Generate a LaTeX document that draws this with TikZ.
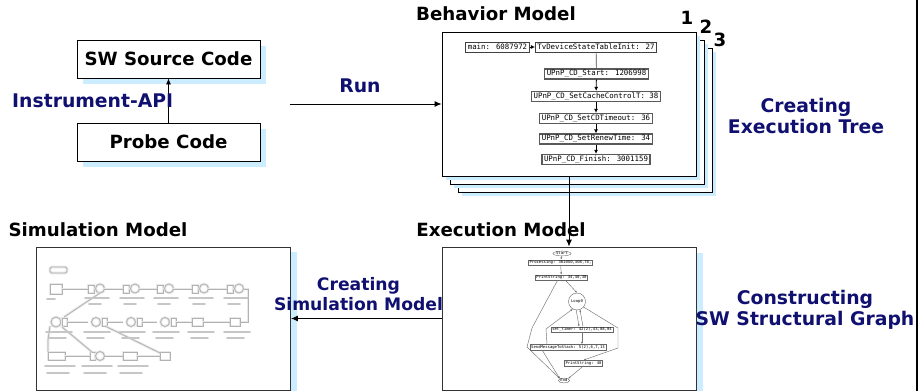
\documentclass[tikz,border=0pt]{standalone}
\usepackage{fontspec}
\setmainfont{DejaVu Sans}
\newfontfamily\monofont{DejaVu Sans Mono}
\usetikzlibrary{arrows.meta,shapes.geometric,shadows,calc}

\definecolor{navy}{RGB}{16,16,112}
\definecolor{shadowblue}{RGB}{204,236,255}

\begin{document}
\begin{tikzpicture}[x=1pt,y=-1pt,
  big/.style={font=\fontsize{18.2}{20}\selectfont\bfseries},
  bignote/.style={font=\fontsize{18.8}{20.5}\selectfont\bfseries},
  ttl/.style={big, text=black, inner sep=0pt},
  note/.style={bignote, text=navy, align=center, inner sep=0pt},
  blueshade/.style={drop shadow={shadow xshift=#1, shadow yshift=-#1, fill=shadowblue, opacity=1}},
  codebox/.style={draw, fill=white, line width=0.8pt, minimum width=183pt,
    minimum height=38pt, big, blueshade=6pt},
  sheet/.style={draw, fill=white, line width=0.8pt, minimum width=254pt,
    minimum height=144pt, blueshade=4pt},
  panel/.style={draw=black!80, fill=white, line width=0.9pt, minimum width=254pt,
    minimum height=143pt},
  tbox/.style={draw=black!75, fill=white, line width=0.7pt, inner xsep=2pt,
    inner ysep=1pt, minimum height=10pt, font=\monofont\fontsize{7.4}{8}\selectfont},
  tboxx/.style={tbox, line width=1.3pt, draw=black!65},
  tarrow/.style={draw=black, line width=0.8pt, -{Latex[length=4pt,width=4pt]}},
  flow/.style={draw=black, line width=0.9pt, -{Latex[length=7pt,width=6pt]}},
  gbox/.style={draw=black!60, fill=white, line width=0.4pt, inner xsep=1pt,
    inner ysep=0.8pt, font=\monofont\fontsize{3.9}{4.3}\selectfont},
  gell/.style={gbox, ellipse, inner xsep=0.5pt, inner ysep=0.2pt},
  gedge/.style={draw=black!55, line width=0.45pt, -{Latex[length=2.2pt,width=2pt]}},
  simline/.style={draw=gray!60, line width=0.8pt, preaction={draw=gray!18, line width=2.6pt}},
  simtext/.style={draw=gray!45, line width=1.6pt, line cap=round}
]
\useasboundingbox (0,0) rectangle (921,391);

% page edge rule
\draw[line width=2pt] (917,0) -- (917,391);

% ---------------- instrumentation ----------------
\node[codebox] (sw) at (168.5,59) {SW Source Code};
\node[codebox] (probe) at (168.5,142) {Probe Code};
\draw[line width=0.8pt, -{Latex[length=6pt,width=5pt]}] (probe.north) -- (sw.south);
\node[note, anchor=west] (api) at (12,101) {Instrument-API};

% ---------------- behavior model (stack of three sheets) ----------------
\node[sheet] (b3) at (585,120) {};
\node[sheet] (b2) at (577,112) {};
\node[sheet] (b1) at (569,104) {};
\node[ttl] (btitle) at (496,14) {Behavior Model};
\node[ttl] (n1) at (687,18) {1};
\node[ttl] (n2) at (706,27) {2};
\node[ttl] (n3) at (720,40) {3};

\node[tbox] (tmain) at (497.5,47) {main: 6087972};
\node[tbox] (ttv) at (596,47) {TvDeviceStateTableInit: 27};
\node[tboxx] (tstart) at (596.5,74) {UPnP\_CD\_Start: 1206998};
\node[tboxx] (tcache) at (596,96.5) {UPnP\_CD\_SetCacheControlT: 38};
\node[tboxx] (ttime) at (596,118.5) {UPnP\_CD\_SetCDTimeout: 36};
\node[tboxx] (trenew) at (596,139) {UPnP\_CD\_SetRenewTime: 34};
\node[tboxx] (tfin) at (596,159.5) {UPnP\_CD\_Finish: 3001159};
\draw[tarrow] (tmain) -- (ttv);
\draw[draw=black!70, line width=0.7pt] (ttv) -- (tstart);
\draw[tarrow] (tstart) -- (tcache);
\draw[tarrow] (tcache) -- (ttime);
\draw[tarrow] (ttime) -- (trenew);
\draw[tarrow] (trenew) -- (tfin);

% Run
\coordinate (runfrom) at (290,104);
\draw[flow] (runfrom) -- (b1.west);
\node[note] (run) at (360,86) {Run};
\node[note] (cet) at (806,116) {Creating\\Execution Tree};

% ---------------- execution model ----------------
\fill[shadowblue] (696,253) rectangle (703,391);
\node[panel] (exec) at (569,318.5) {};
\node[ttl] (etitle) at (501,230) {Execution Model};
\draw[flow] (b1.south) -- (exec.north);

\node[gell] (gstart) at (562,253.5) {Start};
\node[gbox] (gproc) at (560.5,262.5) {Processing: 301050,308,78,};
\node[gbox] (gps1) at (561.5,277.5) {PrintString: 34,40,30};
\node[gbox, circle, inner sep=0.5pt, minimum size=17pt] (gloop) at (577,301.5) {Loop0};
\node[gbox] (gtimer) at (582,329.5) {set\_timer: 42(2),43,88,84};
\node[gbox] (gsend) at (568,347) {SendMessageToStack: 5(2),6,7,13};
\node[gbox] (gps2) at (583.5,363) {PrintString: 40};
\node[gell] (gend) at (564,380.5) {End};
\draw[gedge] (gstart) -- (gproc);
\draw[gedge] (gproc) -- (gps1);
\draw[gedge] ([xshift=4pt]gps1.south) -- (gloop.north);
\draw[gedge] ([xshift=-4pt]gps1.south) -- (532,328) -- (527,347) -- (gend.north west);
\draw[gedge] (gloop.-95) -- ([xshift=-3pt]gtimer.north);
\draw[gedge] ([xshift=1pt]gtimer.north) -- (gloop.-70);
\draw[gedge] (gtimer.south) -- (gtimer.south |- gsend.north);
\draw[gedge] ([xshift=-21pt]gsend.north) -- (546,329) -- (gloop.-120);
\draw[gedge] (gloop.-40) -- (618,328) -- (618,348) -- (gps2.north);
\draw[gedge] ([xshift=-26pt]gsend.south) -- (gend.north west);
\draw[gedge] (gps2.south) -- (gend.north east);

\node[note] (csg) at (805,310) {Constructing\\SW Structural Graph};

% ---------------- simulation model ----------------
\fill[shadowblue] (291,252) rectangle (297,391);
\node[panel] (sim) at (163.5,318.5) {};
\node[ttl] (stitle) at (98,230) {Simulation Model};
\draw[flow] (exec.west) -- (sim.east);
\node[note, font=\fontsize{17.2}{20}\selectfont\bfseries] (csm) at (358.5,294) {Creating\\Simulation Model};

% blurred block diagram
\begin{scope}
  \draw[simline, rounded corners=1.5pt] (50,267) rectangle (67,273);
  % row 1
  \draw[simline] (50,284) rectangle (62,294);
  \foreach \x in {88,123,157,192,227} {
    \draw[simline] (\x,285) rectangle (\x+6,293);
    \draw[simline] (\x+12,288.5) circle (4.5);
  }
  \foreach \a/\b in {62/88,104/123,139/157,173/192,208/227} {
    \draw[simline] (\a,289) -- (\b,289);
  }
  \draw[simline] (244,289) -- (248,289) -- (248,322) -- (241,322);
  % row 2
  \draw[simline] (230,318) rectangle (240,326);
  \draw[simline] (192,318) rectangle (203,326);
  \foreach \x in {88,123,157} {
    \draw[simline] (\x+8,322) circle (4.5);
    \draw[simline] (\x+14,318) rectangle (\x+19,326);
  }
  \draw[simline] (56,322) circle (5);
  \draw[simline] (62,318) rectangle (67,326);
  \foreach \a/\b in {230/203,192/176,157/142,123/107,88/67} {
    \draw[simline] (\a,322) -- (\b,322);
  }
  % row 3
  \draw[simline] (48,352) rectangle (65,360);
  \draw[simline] (90,352) rectangle (95,360);
  \draw[simline] (100,356) circle (4.5);
  \draw[simline] (123,352) rectangle (137,360);
  \draw[simline] (160,352) rectangle (170,360);
  \foreach \a/\b in {65/90,105/123,137/160} {
    \draw[simline] (\a,356) -- (\b,356);
  }
  % cross links
  \draw[simline] (100,293) -- (64,317);
  \draw[simline] (50,326) -- (48,340) -- (48,352);
  \draw[simline] (62,327) -- (92,352);
  \draw[simline] (105,326) -- (160,353);
  % labels under blocks
  \foreach \x in {85,120,154,189,224} {
    \draw[simtext] (\x,298) -- (\x+24,298);
    \draw[simtext] (\x+4,304) -- (\x+16,304);
  }
  \draw[simtext] (47,299) -- (55,299);
  \foreach \x in {46,84,119,153,188,224} {
    \draw[simtext] (\x,332) -- (\x+26,332);
    \draw[simtext] (\x+3,338) -- (\x+20,338);
  }
  \foreach \x in {45,82,118} {
    \draw[simtext] (\x,366) -- (\x+30,366);
    \draw[simtext] (\x+2,373) -- (\x+24,373);
  }
\end{scope}
\end{tikzpicture}
\end{document}
